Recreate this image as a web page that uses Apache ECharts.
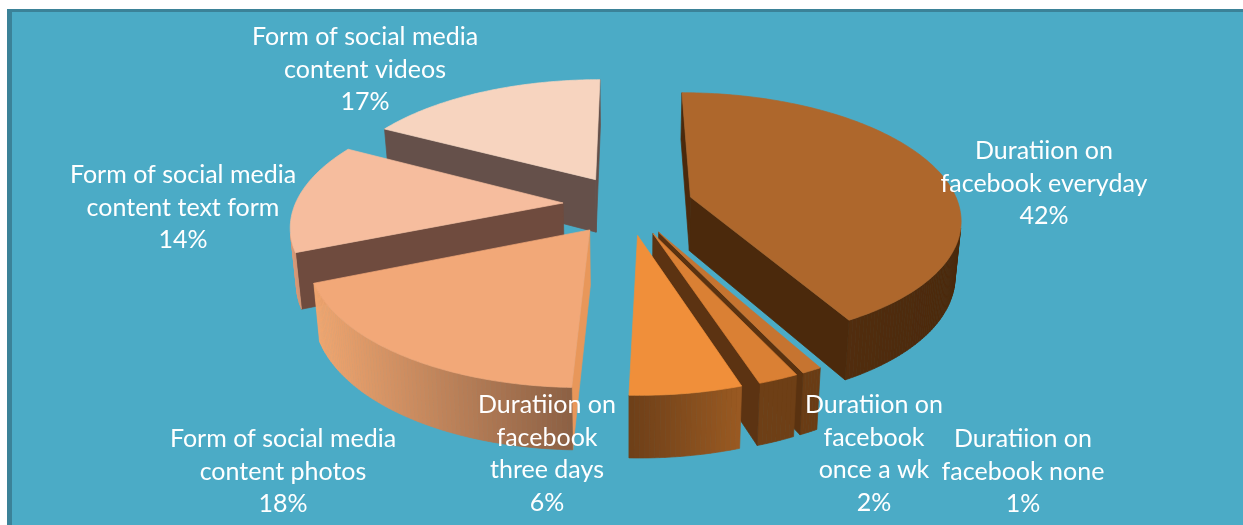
<!DOCTYPE html>
<html><head><meta charset="utf-8">
<style>html,body{margin:0;padding:0;background:#fff}#c{width:1243px;height:525px}</style>
<script src="https://cdn.jsdelivr.net/npm/echarts@6/dist/echarts.min.js"></script>
</head><body><div id="c"></div>
<script>
const categories = ['Duratiion on facebook everyday','Duratiion on facebook none','Duratiion on facebook once a wk','Duratiion on facebook three days','Form of social media content photos','Form of social media content text form','Form of social media content videos'];
const percents = [42,1,2,5.5,18.3,14,17.2];
const labelLines = [
  ['Duratiion on','facebook everyday','42%'],
  ['Duratiion on','facebook none','1%'],
  ['Duratiion on','facebook','once a wk','2%'],
  ['Duratiion on','facebook','three days','6%'],
  ['Form of social media','content photos','18%'],
  ['Form of social media','content text form','14%'],
  ['Form of social media','content videos','17%']
];
const labelCenters = [[1044,151],[1023,439],[874,405],[547,405],[283,439],[183,175],[365,37]];
const topColors  = ['#AE672C','#C67430','#DA8034','#F08F3A','#F2A878','#F6BD9E','#F7D4BF'];
const wallColors = ['#4B290C','#5A3210','#5C3312','#6B3D16','#E8975A','#6F4B3E','#65504A'];
const rimFrom    = ['#4B290C','#6A3C14','#6E3F16','#9A5A22','#8C6044','#9A6A50','#B08C78'];
const rimTo      = ['#5A3210','#6A3C14','#6E3F16','#6E3F18','#F0A670','#D89A78','#D8B09A'];

// view of the tilted plate
const CX=628, CY=204.5, K=268, PERSP=0.16, TILT=0.46, EXPLODE=0.243, LEAN=0.982;
const project=(X,Z)=>{const s=K/(1-PERSP*Z);return [CX+X*s,CY+Z*TILT*s];};
const depth=Z=>54+7*Z;
const hex=c=>[1,3,5].map(i=>parseInt(c.substr(i,2),16));
const mix=(a,b,t)=>{const A=hex(a),B=hex(b);return 'rgb('+A.map((v,i)=>Math.round(v+(B[i]-v)*t)).join(',')+')';};
const cumul=[];percents.reduce((s,v,i)=>(cumul[i]=s,s+v),0);
const total=percents.reduce((a,b)=>a+b,0);
const drawOrder=[6,0,5,4,1,2,3];

function renderItem(params,api){
  const i=params.dataIndex, v=api.value(0);
  const a0=cumul[i]/total*2*Math.PI, a1=(cumul[i]+v)/total*2*Math.PI, am=(a0+a1)/2;
  const ox=EXPLODE*Math.sin(am), oz=-EXPLODE*Math.cos(am);
  const steps=Math.max(6,Math.round(v*4));
  const pts=[[ox,oz]];
  for(let n=0;n<=steps;n++){const a=a0+(a1-a0)*n/steps;pts.push([ox+Math.sin(a),oz-Math.cos(a)]);}
  const top=pts.map(p=>project(p[0],p[1]));
  const low=pts.map((p,n)=>[CX+(top[n][0]-CX)*LEAN,top[n][1]+depth(p[1])]);
  const z2=drawOrder.indexOf(i)+1;
  const kids=[];
  const N=pts.length;
  const xs=top.slice(1).map(p=>p[0]);
  const minX=Math.min.apply(null,xs),maxX=Math.max.apply(null,xs);
  for(let n=0;n<N;n++){
    const m=(n+1)%N;
    const quad=[top[n],top[m],low[m],low[n]];
    let area=0;
    quad.forEach((p,j)=>{const q=quad[(j+1)%4];area+=p[0]*q[1]-q[0]*p[1];});
    if(area>=0) continue;
    const isWall=(n===0||m===0);
    const t=maxX>minX?((top[n][0]+top[m][0])/2-minX)/(maxX-minX):0.5;
    const col=isWall?wallColors[i]:mix(rimFrom[i],rimTo[i],1-t);
    kids.push({type:'polygon',z2:z2,shape:{points:quad},style:{fill:col,stroke:col,lineWidth:0.7}});
  }
  kids.push({type:'polygon',z2:z2,shape:{points:top},style:{fill:topColors[i],stroke:topColors[i],lineWidth:0.7}});
  labelLines[i].forEach((line,n)=>{
    kids.push({type:'text',z2:100,style:{text:line,x:labelCenters[i][0],y:labelCenters[i][1]+n*32.7,
      fill:'#fff',font:'25px Lato',align:'center',verticalAlign:'middle'}});
  });
  return {type:'group',children:kids};
}
const chart=echarts.init(document.getElementById('c'),null,{renderer:'canvas'});
chart.setOption({
  animation:false,
  backgroundColor:'#ffffff',
  graphic:[
    {type:'rect',z:-2,silent:true,shape:{x:7,y:9,width:1236,height:516},style:{fill:'#3B8298'}},
    {type:'rect',z:-1,silent:true,shape:{x:12,y:12,width:1231,height:513},style:{fill:'#4BABC6'}}
  ],
  series:[{type:'custom',coordinateSystem:'none',renderItem:renderItem,
    data:percents.map((v,i)=>({name:categories[i],value:[v]})),silent:true,z:5}]
});
</script></body></html>
